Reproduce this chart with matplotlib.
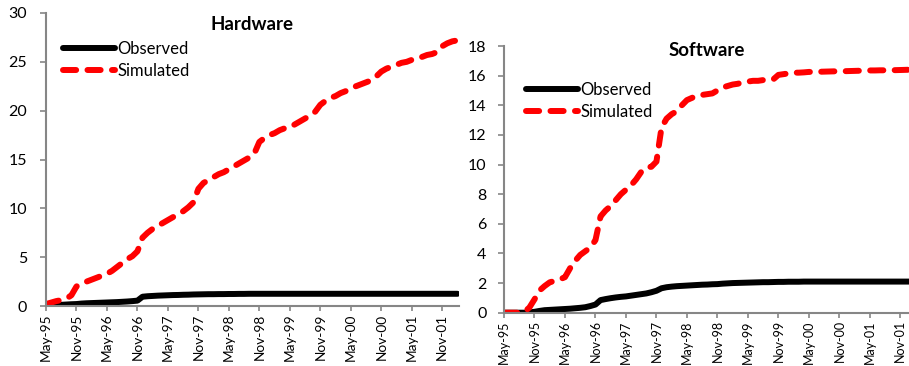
import matplotlib
matplotlib.use("Agg")
from matplotlib import pyplot as plt

plt.rcParams['font.family'] = ['Lato', 'DejaVu Sans']

# month labels every 6 months, monthly data starting May-95
tick_labels = ['May-95', 'Nov-95', 'May-96', 'Nov-96', 'May-97', 'Nov-97', 'May-98',
               'Nov-98', 'May-99', 'Nov-99', 'May-00', 'Nov-00', 'May-01', 'Nov-01']

hw_observed = [0.0, 0.05, 0.1, 0.12, 0.15, 0.18, 0.2, 0.25, 0.28, 0.3, 0.32, 0.34,
               0.36, 0.38, 0.4, 0.43, 0.46, 0.5, 0.55, 0.95, 1.0, 1.03, 1.06, 1.08,
               1.1, 1.12, 1.13, 1.15, 1.16, 1.18, 1.19, 1.2, 1.21, 1.21, 1.22, 1.22,
               1.23, 1.23, 1.24, 1.24, 1.25, 1.25, 1.25, 1.25, 1.25, 1.25, 1.25, 1.25,
               1.25, 1.25, 1.25, 1.25, 1.25, 1.25, 1.25, 1.25, 1.25, 1.25, 1.25, 1.25,
               1.25, 1.25, 1.25, 1.25, 1.25, 1.25, 1.25, 1.25, 1.25, 1.25, 1.25, 1.25,
               1.25, 1.25, 1.25, 1.25, 1.25, 1.25, 1.25, 1.25, 1.25, 1.25]
hw_simulated = [0.2, 0.35, 0.5, 0.6, 0.75, 1.1, 2.0, 2.3, 2.5, 2.7, 2.9, 3.1,
                3.3, 3.6, 4.0, 4.4, 4.8, 5.1, 5.6, 7.0, 7.5, 7.9, 8.2, 8.5,
                8.8, 9.1, 9.4, 9.7, 10.1, 10.6, 12.0, 12.6, 12.9, 13.2, 13.5, 13.7,
                14.0, 14.3, 14.6, 14.9, 15.2, 15.6, 16.8, 17.2, 17.5, 17.7, 18.0, 18.2,
                18.3, 18.6, 18.9, 19.2, 19.5, 19.9, 20.6, 21.0, 21.3, 21.5, 21.8, 22.0,
                22.2, 22.5, 22.7, 22.9, 23.1, 23.5, 24.0, 24.3, 24.5, 24.7, 24.9, 25.0,
                25.2, 25.4, 25.5, 25.7, 25.8, 26.0, 26.6, 26.9, 27.1, 27.2]

sw_observed = [0.0, 0.0, 0.0, 0.0, 0.0, 0.02, 0.06, 0.12, 0.17, 0.19, 0.21, 0.23,
               0.25, 0.27, 0.3, 0.33, 0.37, 0.45, 0.55, 0.85, 0.92, 0.98, 1.03, 1.07,
               1.1, 1.15, 1.2, 1.25, 1.3, 1.38, 1.48, 1.65, 1.72, 1.76, 1.79, 1.81,
               1.83, 1.85, 1.87, 1.89, 1.9, 1.92, 1.93, 1.96, 1.98, 2.0, 2.01, 2.02,
               2.03, 2.04, 2.05, 2.06, 2.06, 2.07, 2.08, 2.08, 2.09, 2.09, 2.09, 2.1,
               2.1, 2.1, 2.1, 2.1, 2.1, 2.1, 2.1, 2.1, 2.1, 2.1, 2.1, 2.1,
               2.1, 2.1, 2.1, 2.1, 2.1, 2.1, 2.1, 2.1, 2.1, 2.1]
sw_simulated = [0.0, 0.0, 0.0, 0.0, 0.05, 0.35, 0.9, 1.5, 1.8, 2.05, 2.15, 2.25,
                2.4, 3.0, 3.5, 3.9, 4.15, 4.4, 4.9, 6.5, 6.9, 7.2, 7.6, 8.0,
                8.3, 8.6, 9.0, 9.5, 9.8, 9.85, 10.2, 12.5, 13.1, 13.4, 13.6, 14.0,
                14.35, 14.5, 14.65, 14.7, 14.75, 14.8, 15.0, 15.2, 15.3, 15.4, 15.45, 15.55,
                15.6, 15.65, 15.65, 15.7, 15.7, 15.75, 16.05, 16.1, 16.15, 16.2, 16.2, 16.22,
                16.25, 16.25, 16.26, 16.27, 16.28, 16.29, 16.3, 16.3, 16.31, 16.32, 16.33, 16.34,
                16.35, 16.35, 16.36, 16.36, 16.37, 16.37, 16.38, 16.39, 16.4, 16.4]

months = list(range(len(hw_observed)))
gray = '#868686'


def draw(ax, obs, sim, title, ymax, ystep, xmax, title_y, leg_anchor, ytick_pad, xfont):
    ax.plot(months, obs, color='black', lw=4.3, solid_capstyle='round', label='Observed')
    ax.plot(months, sim, color='#ff0000', lw=4.3, dashes=(2.2, 1.9),
            dash_capstyle='round', label='Simulated')
    ax.set_xlim(0, xmax)
    ax.set_ylim(0, ymax)
    ax.set_yticks(range(0, ymax + 1, ystep))
    ax.set_xticks(range(0, 6 * len(tick_labels), 6))
    ax.set_xticklabels(tick_labels, rotation=90, fontsize=xfont)
    for s in ['top', 'right']:
        ax.spines[s].set_visible(False)
    for s in ['left', 'bottom']:
        ax.spines[s].set_color(gray)
        ax.spines[s].set_linewidth(1.5)
    ax.tick_params(axis='y', colors=gray, labelcolor='black', labelsize=11.5,
                   length=4.5, width=1.2, pad=ytick_pad)
    ax.tick_params(axis='x', colors=gray, labelcolor='black', length=3.5, width=1.2, pad=2)
    ax.text(0.5, title_y, title, transform=ax.transAxes, ha='center', va='center',
            fontsize=13.5, fontweight='bold')
    ax.legend(loc='upper left', bbox_to_anchor=leg_anchor, frameon=False,
              fontsize=12, handlelength=3.1, handletextpad=0.15,
              labelspacing=0.35, borderaxespad=0, borderpad=0)


fig = plt.figure(figsize=(9.09, 3.66), dpi=100)
ax1 = fig.add_axes([46 / 909, 1 - 306 / 366, 413 / 909, 293 / 366])
ax2 = fig.add_axes([504 / 909, 1 - 312.7 / 366, 405 / 909, 266.7 / 366])

draw(ax1, hw_observed, hw_simulated, 'Hardware', 30, 5, 81.3, 0.96, (0.042, 0.905), 9, 9.8)
draw(ax2, sw_observed, sw_simulated, 'Software', 18, 2, 79.7, 0.985, (0.055, 0.865), 8, 9.0)

fig.savefig('out.png', dpi=100)
